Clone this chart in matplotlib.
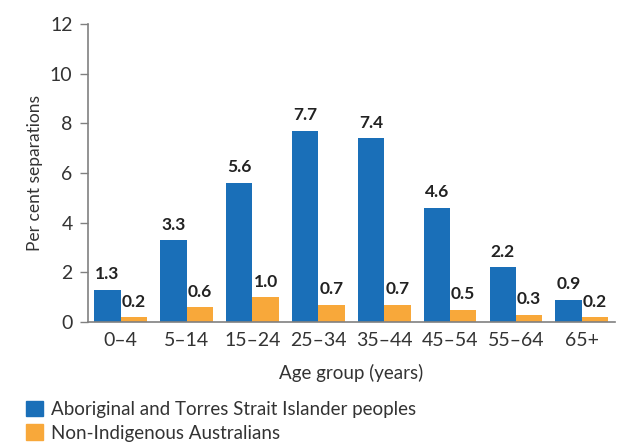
import matplotlib
matplotlib.use("Agg")
import matplotlib.pyplot as plt
import numpy as np
from matplotlib.patches import Patch

categories = ["0–4", "5–14", "15–24", "25–34", "35–44", "45–54", "55–64", "65+"]
indigenous = [1.3, 3.3, 5.6, 7.7, 7.4, 4.6, 2.2, 0.9]
non_indigenous = [0.2, 0.6, 1.0, 0.7, 0.7, 0.5, 0.3, 0.2]
series_names = ["Aboriginal and Torres Strait Islander peoples", "Non-Indigenous Australians"]

plt.rcParams['font.family'] = ['Lato', 'DejaVu Sans']
blue = "#1a6fb8"
orange = "#f8a83a"
text_c = "#333333"

fig = plt.figure(figsize=(6.41, 4.43), dpi=100)
ax = fig.add_axes([0.137, 0.273, 0.822, 0.673])
x = np.arange(len(categories))
w = 0.4
b1 = ax.bar(x - w/2, indigenous, w, color=blue)
b2 = ax.bar(x + w/2, non_indigenous, w, color=orange)
for rect, v in zip(b1, indigenous):
    ax.text(rect.get_x() + rect.get_width()/2, v + 0.3, f"{v:.1f}", ha="center", va="bottom",
            fontsize=12.5, fontweight="bold", color="#222222")
for rect, v in zip(b2, non_indigenous):
    ax.text(rect.get_x() + rect.get_width()/2, v + 0.3, f"{v:.1f}", ha="center", va="bottom",
            fontsize=12.5, fontweight="bold", color="#222222")

ax.set_ylim(0, 12)
ax.set_yticks(range(0, 13, 2))
ax.set_xlim(-0.5, len(categories) - 0.5)
ax.set_xticks(x)
ax.set_xticklabels(categories)
ax.tick_params(axis="x", length=0, labelsize=14, colors=text_c, pad=7)
ax.tick_params(axis="y", length=6, labelsize=14, colors=text_c, direction="out", width=1, pad=5)
ax.tick_params(axis="y", color="#808080")
for s in ["top", "right"]:
    ax.spines[s].set_visible(False)
for s in ["left", "bottom"]:
    ax.spines[s].set_color("#808080")
    ax.spines[s].set_linewidth(1.2)
ax.set_ylabel("Per cent separations", fontsize=12.5, color=text_c, labelpad=5)
ax.set_xlabel("Age group (years)", fontsize=13.5, color=text_c, labelpad=11)

handles = [Patch(color=blue), Patch(color=orange)]
fig.legend(handles, series_names, loc="lower left", bbox_to_anchor=(0.015, -0.035), frameon=False,
           fontsize=13.5, handlelength=0.9, handleheight=0.9, handletextpad=0.4, labelspacing=0.35,
           labelcolor=text_c)

fig.savefig("out.png", dpi=100)
